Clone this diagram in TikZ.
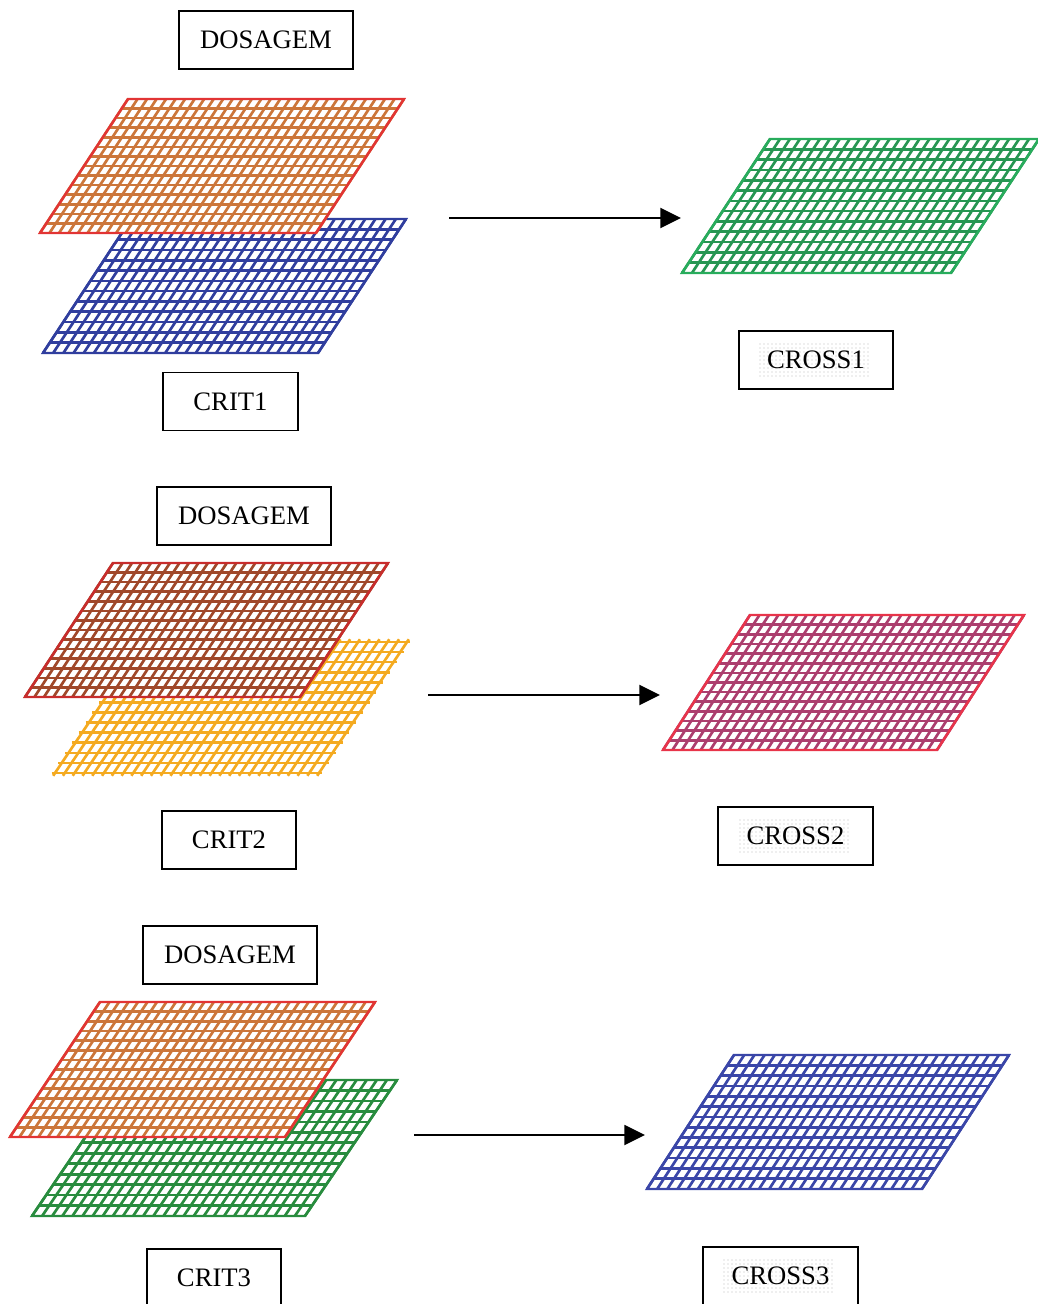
\documentclass[tikz,border=0pt]{standalone}
\usepackage{fontspec}
\setmainfont{Liberation Serif}
\usetikzlibrary{arrows.meta,patterns}

\definecolor{plateorange}{RGB}{204,118,58}
\definecolor{platebrown}{RGB}{160,72,42}
\definecolor{edgered}{RGB}{226,52,52}
\definecolor{edgedark}{RGB}{200,44,44}
\definecolor{plateblue}{RGB}{48,62,158}
\definecolor{plategreen}{RGB}{38,150,82}
\definecolor{edgegreen}{RGB}{40,172,92}
\definecolor{darkgreen}{RGB}{40,140,62}
\definecolor{plategold}{RGB}{244,170,32}
\definecolor{platepink}{RGB}{172,62,110}
\definecolor{edgepink}{RGB}{232,52,74}
\definecolor{crossblue}{RGB}{58,70,168}

% A meshed parallelogram plate.
% #1 x of lower-left corner, #2 y of lower edge, #3 y of upper edge,
% #4 width, #5 lean to the right, #6 rows, #7 columns,
% #8 style of the mesh lines, #9 style of the outline
\newcommand\meshplate[9]{%
  \fill[white] (#1,#2) -- ++(#4,0) -- ++(#5,#3-#2) -- ++(-#4,0) -- cycle;
  \begin{scope}[line width=2pt, #8]
    \foreach \i in {0,...,#6}{
      \pgfmathsetmacro\yy{#2+(#3-#2)*\i/#6}
      \pgfmathsetmacro\xx{#1+#5*\i/#6}
      \draw (\xx,\yy) -- ++(#4,0);
    }
    \foreach \j in {0,...,#7}{
      \pgfmathsetmacro\xx{#1+#4*\j/#7}
      \draw (\xx,#2) -- ++(#5,#3-#2);
    }
  \end{scope}
  \draw[line width=1.8pt, line join=miter, #9] (#1,#2) -- ++(#4,0) -- ++(#5,#3-#2) -- ++(-#4,0) -- cycle;
}

\tikzset{
  tagbox/.style={draw, line width=1.4pt, minimum height=43.5pt, inner sep=0pt,
    font=\fontsize{20}{24}\selectfont, text=black},
  dosbox/.style={tagbox, minimum width=130.5pt},
  critbox/.style={tagbox, minimum width=101pt},
  crossbox/.style={tagbox, minimum width=116pt,
    path picture={\fill[pattern=dots, pattern color=gray!55]
      ([shift={(-58,-17)}]path picture bounding box.center) rectangle
      ([shift={(54,17)}]path picture bounding box.center);}},
  flow/.style={line width=1.5pt, -{Triangle[length=15.5pt, width=15pt]}}
}

\begin{document}
\begin{tikzpicture}[x=0.75pt, y=-0.75pt]
  \useasboundingbox (0,0) rectangle (1038,1304);

  % ---- first row ----
  \meshplate{43}{353}{219}{275}{88}{13}{27}{draw=plateblue}{draw=plateblue}
  \meshplate{40}{233}{99}{276}{88}{14}{29}{draw=plateorange}{draw=edgered}
  \meshplate{682}{273}{139}{269}{88}{13}{27}{draw=plategreen}{draw=edgegreen}

  \node[dosbox] (dos1) at (266,40) {DOSAGEM};
  \node[critbox] (crit1) at (230.5,401.5) {CRIT1};
  \node[crossbox] (cross1) at (816,360) {CROSS1};

  \coordinate (a1s) at (449,218);
  \coordinate (a1e) at (681,218);
  \draw[flow] (a1s) -- (a1e);

  % ---- second row ----
  \meshplate{55}{773}{642}{264}{88}{13}{27}{draw=plategold, shorten <=-2.5pt, shorten >=-2.5pt}{draw=none}
  \meshplate{25}{697}{563}{275}{88}{14}{29}{draw=platebrown}{draw=edgedark}
  \meshplate{663}{750}{615}{274}{87}{14}{29}{draw=platepink}{draw=edgepink}

  \node[dosbox] (dos2) at (244,516) {DOSAGEM};
  \node[critbox] (crit2) at (229,840) {CRIT2};
  \node[crossbox] (cross2) at (795.5,836) {CROSS2};

  \coordinate (a2s) at (428,695);
  \coordinate (a2e) at (660,695);
  \draw[flow] (a2s) -- (a2e);

  % ---- third row ----
  \meshplate{32}{1216}{1080}{273}{92}{13}{27}{draw=darkgreen}{draw=darkgreen}
  \meshplate{10}{1137}{1002}{275}{90}{14}{29}{draw=plateorange}{draw=edgered}
  \meshplate{647}{1189}{1055}{275}{87}{13}{27}{draw=crossblue}{draw=crossblue}

  \node[dosbox] (dos3) at (230,955) {DOSAGEM};
  \node[critbox] (crit3) at (214,1278) {CRIT3};
  \node[crossbox] (cross3) at (780.5,1276) {CROSS3};

  \coordinate (a3s) at (414,1135);
  \coordinate (a3e) at (645,1135);
  \draw[flow] (a3s) -- (a3e);
\end{tikzpicture}
\end{document}
